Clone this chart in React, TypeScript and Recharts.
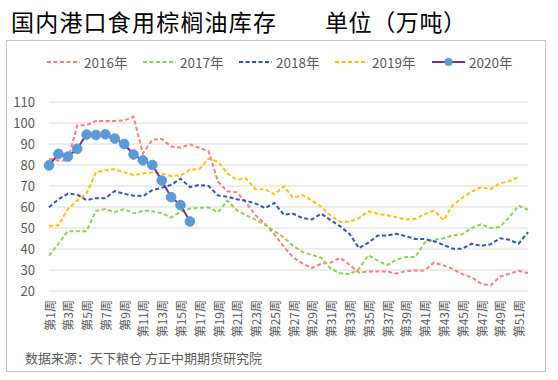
import React from "react";
import { LineChart, Line, XAxis, YAxis, CartesianGrid, Legend } from "recharts";

const weeks = Array.from({ length: 52 }, (_, i) => `第${i + 1}周`);

const y2016 = [82.9, 82.2, 82.2, 98.8, 99, 101, 101, 101, 101.2, 103,
  85.5, 92, 92.4, 88.8, 88.3, 89.8, 88.2, 86.5, 72, 67.5,
  67, 62, 56, 52, 47, 41, 36, 33, 31, 33,
  33.5, 35.8, 32.5, 28.8, 29.3, 29.3, 29.3, 28.3, 29.5, 29.8,
  29.8, 33.6, 32.2, 30.5, 28, 26.5, 23.5, 22.6, 26.8, 28.2, 29.6, 28.6];
const y2017 = [36.8, 42.5, 48.5, 48.5, 48.5, 58.2, 59, 57.5, 59, 57,
  58.2, 58, 57, 55, 57.8, 59.3, 59.6, 59.8, 57.5, 63,
  58.5, 56, 54, 51.5, 48.5, 45.5, 41.5, 38.5, 37.2, 35.8,
  30.5, 28.5, 28, 30.5, 37, 34.5, 32.3, 35, 36.2, 36.2,
  43, 44.4, 45.1, 46.5, 47, 50, 51.8, 50, 50.5, 55.1, 60.6, 58.7];
const y2018 = [59.9, 63.7, 66.3, 65.9, 63.3, 64.2, 64.2, 67.6, 66.3, 65.4,
  65.2, 68, 69.2, 70.5, 73.5, 69.5, 70.5, 70, 65.5, 64.9,
  63.7, 63, 61.6, 59.5, 61.9, 56.3, 56.8, 54.7, 54.1, 56.8,
  53.7, 50.8, 47.2, 40.4, 43, 46.4, 46.5, 47.2, 46.1, 44.8,
  44.7, 43.7, 42, 40.1, 40.1, 42.5, 41.5, 42.2, 45.1, 44.4, 42.5, 48];
const y2019 = [51, 51.3, 59, 63, 66.5, 76.5, 77.5, 78, 76.5, 75.2,
  76, 76.4, 75.9, 74.8, 75, 77.8, 78, 83, 81.5, 76,
  73, 73.5, 68.5, 68.5, 66, 69.8, 64.4, 65.7, 63, 60.1,
  55.8, 53, 53, 54.7, 58, 56.8, 56.1, 55.1, 54, 54.4,
  56.6, 58.3, 53.7, 60.9, 64.4, 67.3, 69.5, 68.5, 71.2, 72.3, 74.2];
const y2020 = [79.8, 85.3, 84, 87.7, 94.5, 94.3, 94.6, 92.6, 90, 85,
  82.2, 80, 72.6, 64.7, 60.9, 53.1];

const yTicks = [20, 30, 40, 50, 60, 70, 80, 90, 100, 110];

const data = weeks.map((w, i) => ({
  week: w,
  s2016: y2016[i],
  s2017: y2017[i],
  s2018: y2018[i],
  s2019: y2019[i],
  s2020: y2020[i],
}));

const FONT = '"Noto Sans CJK SC", "Noto Sans", sans-serif';
const GRAY = "#595959";

const series = [
  { key: "s2016", name: "2016年", color: "#FF7C80" },
  { key: "s2017", name: "2017年", color: "#92D050" },
  { key: "s2018", name: "2018年", color: "#2F52C6" },
  { key: "s2019", name: "2019年", color: "#FFC000" },
];

const legendLeft = [47, 143, 239, 335, 432];

const WeekTick = (props: any) => {
  const { x, y, payload } = props;
  const ty = y + 9;
  return (
    <text
      x={x}
      y={ty}
      transform={`rotate(-90 ${x} ${ty})`}
      textAnchor="end"
      dominantBaseline="central"
      fontSize={12}
      fontFamily={FONT}
      fill={GRAY}
    >
      {payload.value}
    </text>
  );
};

const renderLegend = () => {
  const items = [...series, { key: "s2020", name: "2020年", color: "#7030A0" }];
  return (
    <div style={{ position: "relative", height: 20 }}>
      {items.map((it, i) => (
        <div
          key={it.key}
          style={{
            position: "absolute",
            left: legendLeft[i],
            top: 0,
            height: 20,
            display: "flex",
            alignItems: "center",
          }}
        >
          <svg width={33} height={12}>
            {i < 4 ? (
              <line x1={0} y1={6} x2={33} y2={6} stroke={it.color} strokeWidth={2} strokeDasharray="4 2.5" />
            ) : (
              <g>
                <line x1={0} y1={6} x2={33} y2={6} stroke="#7030A0" strokeWidth={2} />
                <circle cx={16.5} cy={6} r={4} fill="#5B9BD5" />
              </g>
            )}
          </svg>
          <span style={{ marginLeft: 4, fontSize: 13.5, color: GRAY, fontFamily: FONT }}>{it.name}</span>
        </div>
      ))}
    </div>
  );
};

export default function App() {
  return (
    <div style={{ position: "absolute", left: 0, top: 0, width: 558, height: 380, background: "#fff", fontFamily: FONT }}>
      <div style={{ position: "absolute", left: 11, top: 4, fontSize: 23, letterSpacing: 1.2, color: "#000", lineHeight: "34px", fontWeight: 400 }}>
        国内港口食用棕榈油库存
      </div>
      <div style={{ position: "absolute", left: 325, top: 4, fontSize: 23, letterSpacing: 0.6, color: "#000", lineHeight: "34px", fontWeight: 400 }}>
        单位（万吨）
      </div>
      <div
        style={{
          position: "absolute",
          left: 6,
          top: 40,
          width: 540,
          height: 332,
          border: "1.5px solid #C4C4C4",
          boxSizing: "border-box",
        }}
      />
      <div style={{ position: "absolute", left: 0, top: 0 }}>
        <LineChart width={558} height={380} data={data} margin={{ top: 82, right: 30, bottom: 39, left: 9 }}>
          <CartesianGrid vertical={false} stroke="#D9D9D9" strokeWidth={1} />
          <XAxis
            dataKey="week"
            axisLine={false}
            tickLine={false}
            tickSize={0}
            tickMargin={0}
            interval={1}
            height={50}
            tick={<WeekTick />}
          />
          <YAxis
            domain={[20, 110]}
            ticks={yTicks}
            interval={0}
            axisLine={false}
            tickLine={false}
            width={40}
            tickMargin={8}
            tick={{ fontSize: 13, fill: GRAY, fontFamily: FONT }}
          />
          <Legend
            content={renderLegend}
            verticalAlign="top"
            wrapperStyle={{ top: 52, left: 0, width: 558 }}
          />
          {series.map((s) => (
            <Line
              key={s.key}
              dataKey={s.key}
              name={s.name}
              type="linear"
              stroke={s.color}
              strokeWidth={2}
              strokeDasharray="4 2.5"
              dot={false}
              isAnimationActive={false}
            />
          ))}
          <Line
            dataKey="s2020"
            name="2020年"
            type="linear"
            stroke="#7030A0"
            strokeWidth={2}
            dot={{ r: 4.8, fill: "#5B9BD5", stroke: "#5B9BD5", strokeWidth: 1 }}
            isAnimationActive={false}
          />
        </LineChart>
      </div>
      <div style={{ position: "absolute", left: 25, top: 348, fontSize: 13, color: GRAY, fontFamily: FONT, lineHeight: "20px" }}>
        数据来源：天下粮仓 方正中期期货研究院
      </div>
    </div>
  );
}
